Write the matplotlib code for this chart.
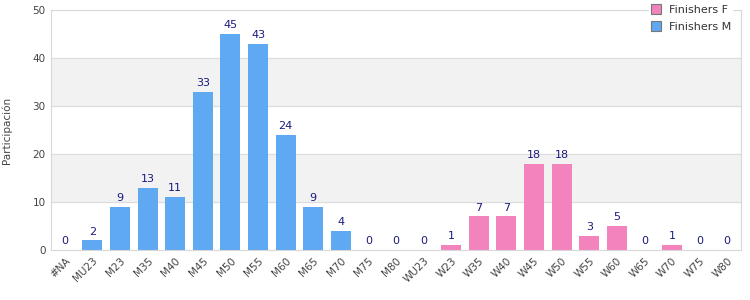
import numpy as np
import matplotlib.pyplot as plt
from matplotlib.lines import Line2D

categories = ['#NA', 'MU23', 'M23', 'M35', 'M40', 'M45', 'M50', 'M55', 'M60', 'M65',
              'M70', 'M75', 'M80', 'WU23', 'W23', 'W35', 'W40', 'W45', 'W50', 'W55',
              'W60', 'W65', 'W70', 'W75', 'W80']
finishers_m = [0, 2, 9, 13, 11, 33, 45, 43, 24, 9, 4, 0, 0, 0,
               0, 0, 0, 0, 0, 0, 0, 0, 0, 0, 0]
finishers_f = [0, 0, 0, 0, 0, 0, 0, 0, 0, 0, 0, 0, 0, 0,
               1, 7, 7, 18, 18, 3, 5, 0, 1, 0, 0]

blue = '#5fa8f2'
pink = '#f283bd'
navy = '#1a1a80'

fig = plt.figure(figsize=(7.5, 3), dpi=100)
ax = fig.add_axes([51 / 750, 50 / 300, 690 / 750, 240 / 300])

x = np.arange(len(categories))
m = np.array(finishers_m)
f = np.array(finishers_f)

# alternating bands
for lo in (10, 30):
    ax.axhspan(lo, lo + 10, color='#f2f2f2', zorder=0)
for y in range(10, 51, 10):
    ax.axhline(y, color='#dcdcdc', lw=0.8, zorder=1)

ax.bar(x, m, width=0.72, color=blue, zorder=2)
ax.bar(x, f, width=0.72, bottom=m, color=pink, zorder=2)

totals = m + f
for xi, t in zip(x, totals):
    ax.text(xi, t + 0.8, str(t), ha='center', va='bottom', fontsize=8, color=navy)

ax.set_xlim(-0.5, len(categories) - 0.5)
ax.set_ylim(0, 50)
ax.set_yticks(range(0, 51, 10))
ax.set_xticks(x)
ax.set_xticklabels(categories, rotation=45, ha='right', rotation_mode='anchor')
ax.tick_params(axis='both', length=0, labelsize=7.5, colors='#444444', pad=4)
ax.set_ylabel('Participación', fontsize=7.5, color='#444444')
ax.yaxis.set_label_coords(-0.057, 0.5)

for s in ax.spines.values():
    s.set_color('#d8d8d8')
    s.set_linewidth(0.8)

handles = [Line2D([], [], marker='s', ls='', markersize=6.5, markerfacecolor=pink,
                  markeredgecolor='#777777', markeredgewidth=0.8),
           Line2D([], [], marker='s', ls='', markersize=6.5, markerfacecolor=blue,
                  markeredgecolor='#777777', markeredgewidth=0.8)]
leg = fig.legend(handles, ['Finishers F', 'Finishers M'], loc='upper left',
                 bbox_to_anchor=(643 / 750, 1.005), frameon=True, fontsize=8,
                 handletextpad=0.6, labelspacing=0.65, borderpad=0.05,
                 handlelength=1.2)
leg.get_frame().set_edgecolor('white')
leg.get_frame().set_facecolor('white')
leg.get_frame().set_alpha(1)
for t in leg.get_texts():
    t.set_color('#333333')

fig.savefig('out.png', dpi=100)
